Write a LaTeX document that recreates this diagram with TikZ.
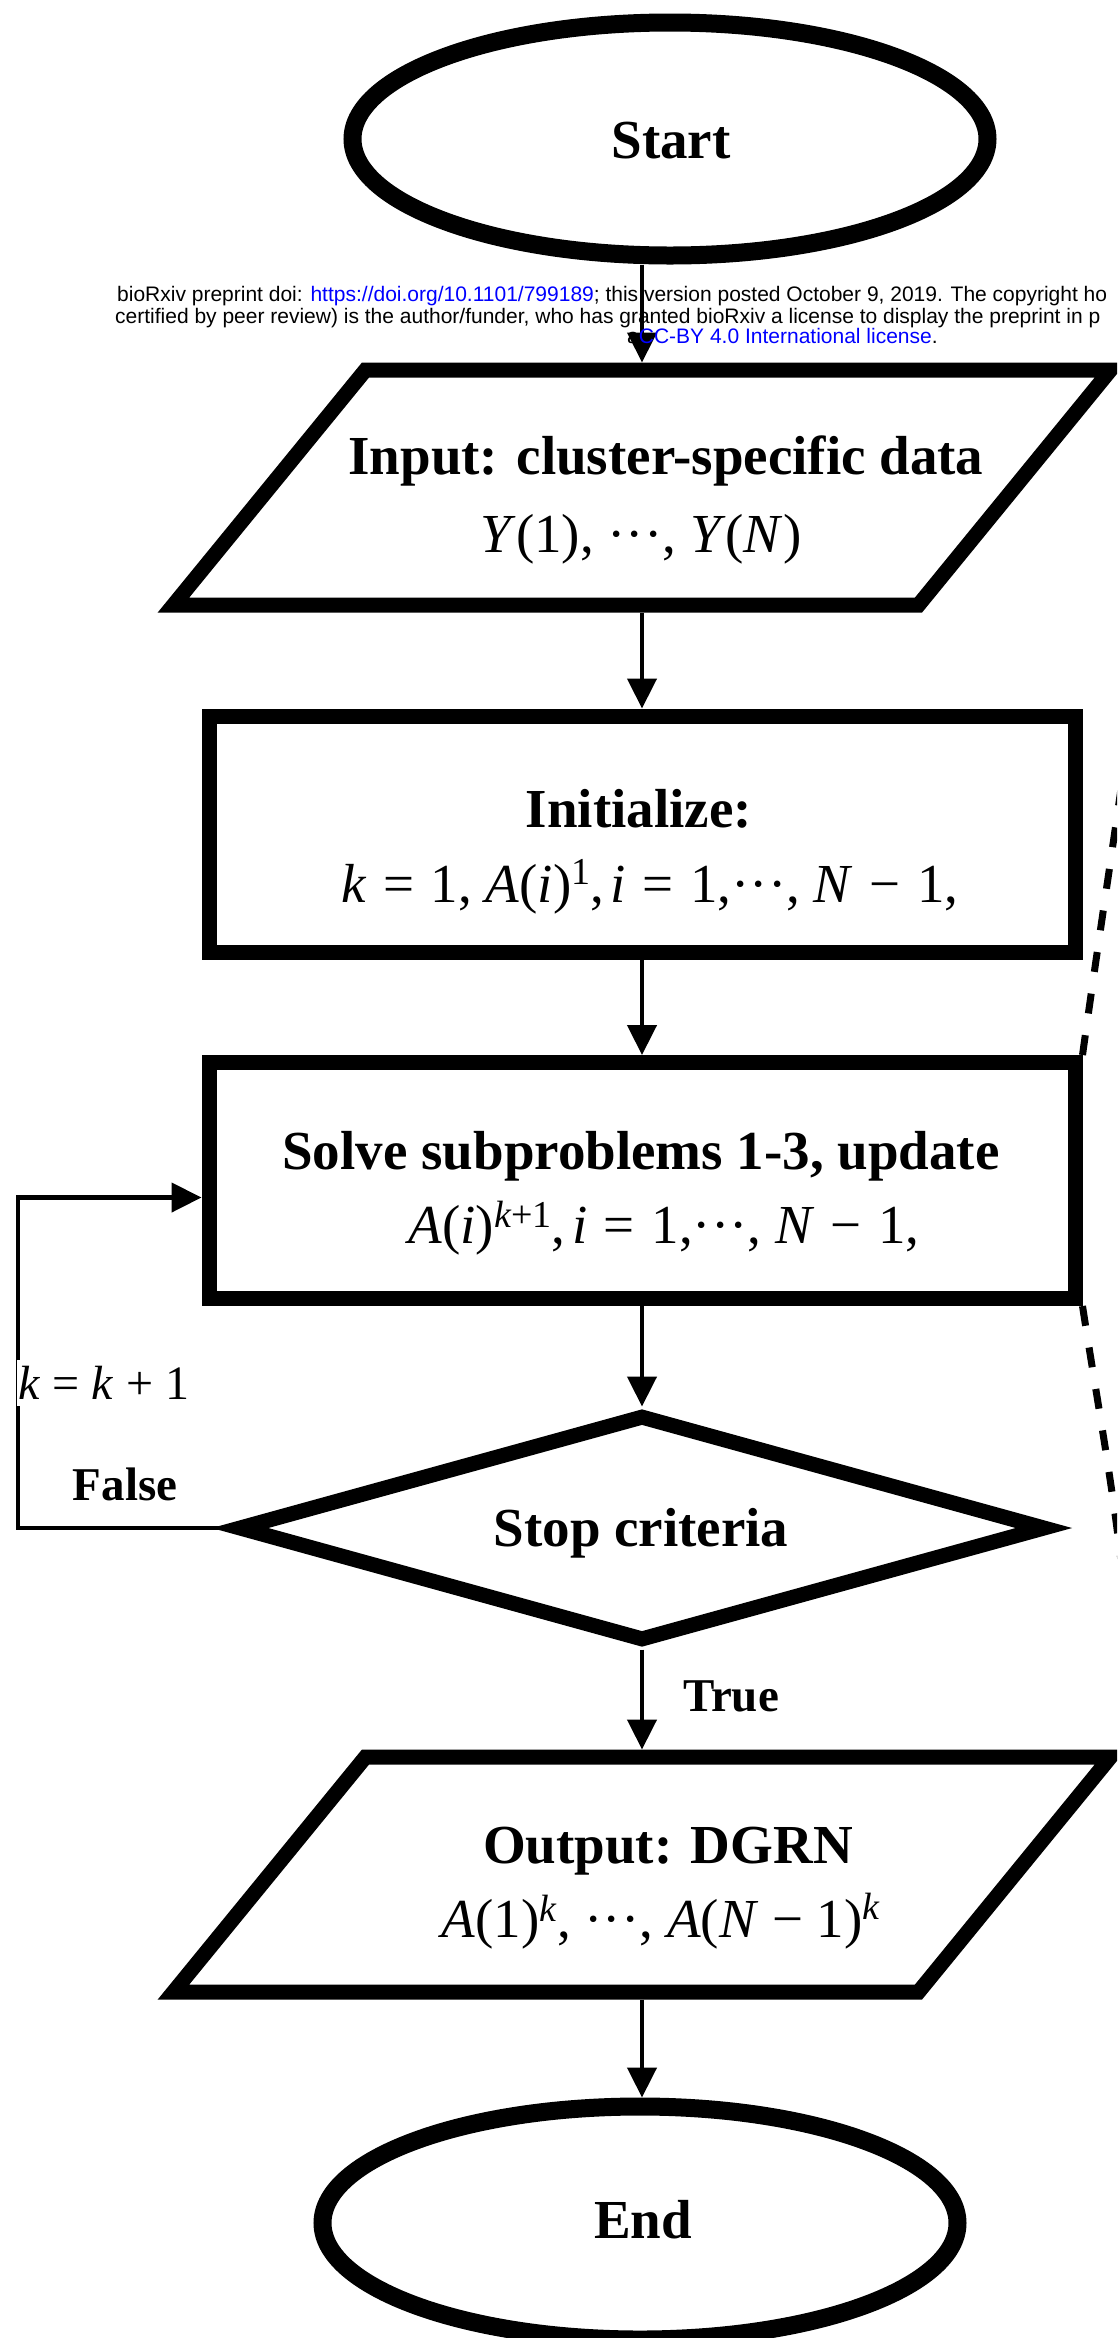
\documentclass[tikz,border=0pt]{standalone}
\usepackage{fontspec}
\setmainfont{Liberation Serif}
\newfontfamily\hdrfont{Liberation Sans}
\usetikzlibrary{shapes.geometric,arrows.meta}
\newcommand\mi[1]{\textit{#1}}
\newcommand\mdts{\char"00B7\char"00B7\char"00B7}
\newcommand\sps[2][12pt]{\raisebox{#1}{\fontsize{38}{40}\selectfont #2}}
\begin{document}
\begin{tikzpicture}[x=1pt,y=-1pt,
  shp/.style={draw, line width=15pt, inner sep=0pt},
  box/.style={shp, rectangle, minimum width=866pt, minimum height=236pt},
  para/.style={rectangle, draw=none, inner sep=0pt, outer xsep=0pt, outer ysep=7.5pt,
     minimum width=937pt, minimum height=235pt},
  paraline/.style={line width=15pt},
  term/.style={draw, line width=18pt, ellipse, inner sep=0pt, minimum width=635pt, minimum height=233pt},
  dec/.style={shp, diamond, minimum width=810pt, minimum height=228pt},
  conn/.style={line width=4.5pt},
  arr/.style={conn, -{Triangle[length=30pt,width=29pt]}},
  bl/.style={font=\fontsize{55}{60}\selectfont\bfseries, inner sep=0pt, anchor=base},
  ml/.style={font=\fontsize{55}{60}\selectfont, inner sep=0pt, anchor=base},
  lab/.style={font=\fontsize{47}{50}\selectfont\bfseries, inner sep=0pt, anchor=base},
  klab/.style={font=\fontsize{48}{50}\selectfont, fill=white, inner xsep=2pt, inner ysep=6pt},
  dsh/.style={line width=7pt, dash pattern=on 20pt off 22pt},
  hdr/.style={font=\hdrfont\fontsize{21}{21}\selectfont, inner sep=0pt, anchor=base west}
]
\clip (0,0) rectangle (1117,2338);
\fill[white] (0,0) rectangle (1117,2338);

% shapes
\node[term] (start) at (670,139) {};
\node[para] (input) at (642,487.5) {};
\draw[paraline] ([xshift=192pt,yshift=-7.5pt]input.north west) -- ([yshift=-7.5pt]input.north east)
   -- ([xshift=-192pt,yshift=7.5pt]input.south east) -- ([yshift=7.5pt]input.south west) -- cycle;
\node[box] (init) at (642,834) {};
\node[box] (solve) at (642,1180.5) {};
\node[dec] (stop) at (642,1528) {};
\node[para] (output) at (642,1874.5) {};
\draw[paraline] ([xshift=192pt,yshift=-7.5pt]output.north west) -- ([yshift=-7.5pt]output.north east)
   -- ([xshift=-192pt,yshift=7.5pt]output.south east) -- ([yshift=7.5pt]output.south west) -- cycle;
\node[term] (end) at (640,2223) {};

% texts
\node[bl] (tstart) at (671,158) {Start};
\node[bl] (tin1) at (666,474) {Input: cluster-specific data};
\node[ml] (tin2) at (641,552) {\mi{Y}(1), \mdts, \mi{Y}(\mi{N}\/)};
\node[bl] (tinit1) at (639,827) {Initialize:};
\node[ml] (tinit2) at (650,902) {\mi{k}\hspace{0.3em}=\hspace{0.3em}1, \mi{A}(\mi{i}\/)\sps[18pt]{1},\hspace{0.12em}\mi{i}\hspace{0.3em}=\hspace{0.3em}1,\mdts, \mi{N}\hspace{0.3em}−\hspace{0.3em}1,};
\node[bl] (tsol1) at (641,1169) {Solve subproblems 1-3, update};
\node[ml] (tsol2) at (664,1243) {\mi{A}(\mi{i}\/)\sps[16pt]{\mi{k}+1},\hspace{0.12em}\mi{i}\hspace{0.3em}=\hspace{0.3em}1,\mdts, \mi{N}\hspace{0.3em}−\hspace{0.3em}1,};
\node[bl] (tstop) at (641,1546) {Stop criteria};
\node[bl] (tout1) at (668,1863) {Output: DGRN};
\node[ml] (tout2) at (661,1937) {\mi{A}(1)\sps[16pt]{\mi{k}}, \mdts, \mi{A}(\mi{N} − 1)\sps[18pt]{\mi{k}}};
\node[bl] (tend) at (643,2238) {End};

% connectors
\draw[arr] (input.north |- start.south) -- (input.north);
\draw[arr] (input.south) -- (input.south |- init.north);
\draw[arr] (init.south) -- (solve.north);
\draw[arr] (solve.south) -- (stop.north);
\draw[arr] (stop.south) -- (output.north);
\draw[arr] (output.south) -- (output.south |- end.north);

\coordinate (lx) at (18,1400);
\coordinate (back) at ([yshift=-17pt]solve.west);
\draw[arr] (stop.west) -- (stop.west -| lx) -- (lx |- back) -- (back);
\node[klab] (kk) at (104,1383) {\mi{k} = \mi{k} + 1};
\node[lab] (false) at (125,1500) {False};
\node[lab] (true) at (731,1711) {True};

% dashed callout lines
\coordinate (d1) at (1125,760);
\coordinate (d2) at (1122,1570);
\draw[dsh] (solve.north east) .. controls (1100,930) and (1114,840) .. (d1);
\draw[dsh] (solve.south east) .. controls (1097,1400) and (1112,1480) .. (d2);

% header overlay
\node[hdr] (h1) at (117,301) {bioRxiv preprint doi: \textcolor{blue}{https://doi.org/10.1101/799189}; this version posted October 9, 2019. The copyright ho};
\node[hdr] (h2) at (115,323) {certified by peer review) is the author/funder, who has granted bioRxiv a license to display the preprint in p};
\node[hdr] (h3) at (627,343) {a\textcolor{blue}{CC-BY 4.0 International license}.};
\end{tikzpicture}
\end{document}
